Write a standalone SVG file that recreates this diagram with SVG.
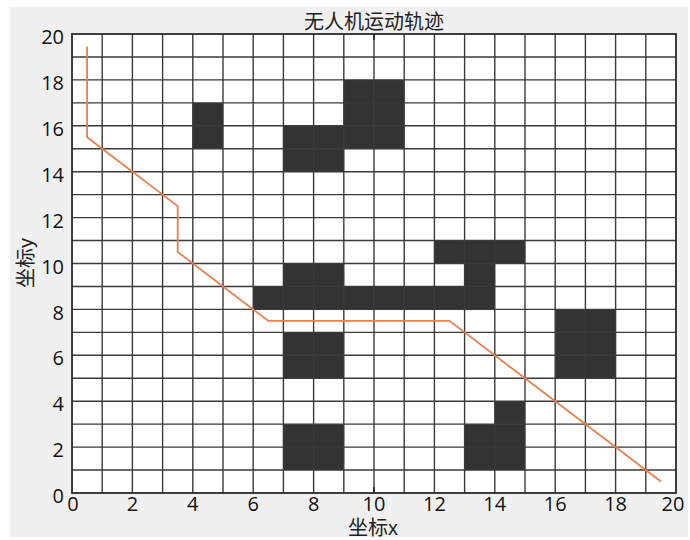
<svg xmlns="http://www.w3.org/2000/svg" width="690" height="540" viewBox="0 0 690 540">
<style>
.tick{font-family:"Open Sans","Liberation Sans",sans-serif;font-size:20px;fill:#111}
.lbl{font-family:"Liberation Sans","Noto Sans CJK SC",sans-serif;font-size:20px;fill:#222}
.obs{fill:#333}
.grid{stroke:#3a3a3a;stroke-width:1.4;fill:none}
.path{stroke:#e8804f;stroke-width:1.8;fill:none;stroke-linejoin:miter}
</style>
<rect x="0" y="0" width="690" height="540" fill="#ffffff"/>
<rect x="10" y="7" width="678" height="530" fill="#f0f0f0"/>
<rect id="plot-area" x="72" y="34" width="604" height="459" fill="#ffffff"/>
<g id="obstacles">
<rect class="obs" x="192.8" y="102.85" width="30.2" height="45.9"/>
<rect class="obs" x="283.4" y="125.8" width="60.4" height="45.9"/>
<rect class="obs" x="343.8" y="79.9" width="60.4" height="68.85"/>
<rect class="obs" x="434.4" y="240.55" width="90.6" height="22.95"/>
<rect class="obs" x="464.6" y="263.5" width="30.2" height="22.95"/>
<rect class="obs" x="253.2" y="286.45" width="241.6" height="22.95"/>
<rect class="obs" x="283.4" y="263.5" width="60.4" height="22.95"/>
<rect class="obs" x="283.4" y="332.35" width="60.4" height="45.9"/>
<rect class="obs" x="555.2" y="309.4" width="60.4" height="68.85"/>
<rect class="obs" x="464.6" y="424.15" width="60.4" height="45.9"/>
<rect class="obs" x="494.8" y="401.2" width="30.2" height="22.95"/>
<rect class="obs" x="283.4" y="424.15" width="60.4" height="45.9"/>
</g>
<g id="grid">
<path class="grid" d="M102.2 34V493M132.4 34V493M162.6 34V493M192.8 34V493M223 34V493M253.2 34V493M283.4 34V493M313.6 34V493M343.8 34V493M374 34V493M404.2 34V493M434.4 34V493M464.6 34V493M494.8 34V493M525 34V493M555.2 34V493M585.4 34V493M615.6 34V493M645.8 34V493M72 470.05H676M72 447.1H676M72 424.15H676M72 401.2H676M72 378.25H676M72 355.3H676M72 332.35H676M72 309.4H676M72 286.45H676M72 263.5H676M72 240.55H676M72 217.6H676M72 194.65H676M72 171.7H676M72 148.75H676M72 125.8H676M72 102.85H676M72 79.9H676M72 56.95H676"/>
<rect x="72" y="34" width="604" height="459" fill="none" stroke="#2a2a2a" stroke-width="1.8"/>
<path d="M374 34V40M374 493V487" stroke="#222" stroke-width="1.6"/>
</g>
<g id="connectors">
<polyline class="path" points="87.1,46.5 87.1,137.3 177.7,206.1 177.7,252 268.3,320.9 449.5,320.9 660.9,481.5"/>
</g>
<g id="y-ticks" class="tick" text-anchor="end">
<text x="64" y="44">20</text>
<text x="64" y="90">18</text>
<text x="64" y="136">16</text>
<text x="64" y="182">14</text>
<text x="64" y="228">12</text>
<text x="64" y="274">10</text>
<text x="64" y="320">8</text>
<text x="64" y="365">6</text>
<text x="64" y="411">4</text>
<text x="64" y="457">2</text>
<text x="64" y="503">0</text>
</g>
<g id="x-ticks" class="tick" text-anchor="middle">
<text x="73" y="511">0</text>
<text x="132.4" y="511">2</text>
<text x="192.8" y="511">4</text>
<text x="253.2" y="511">6</text>
<text x="313.6" y="511">8</text>
<text x="374" y="511">10</text>
<text x="434.4" y="511">12</text>
<text x="494.8" y="511">14</text>
<text x="555.2" y="511">16</text>
<text x="615.6" y="511">18</text>
<text x="673" y="511">20</text>
</g>
<g id="labels">
<text class="lbl" x="374" y="29" text-anchor="middle" font-size="23" fill="#333">无人机运动轨迹</text>
<text class="lbl" x="373" y="535" text-anchor="middle" font-size="19">坐标x</text>
<text class="lbl" x="0" y="0" text-anchor="middle" transform="translate(33,263) rotate(-90)">坐标y</text>
</g>
</svg>
